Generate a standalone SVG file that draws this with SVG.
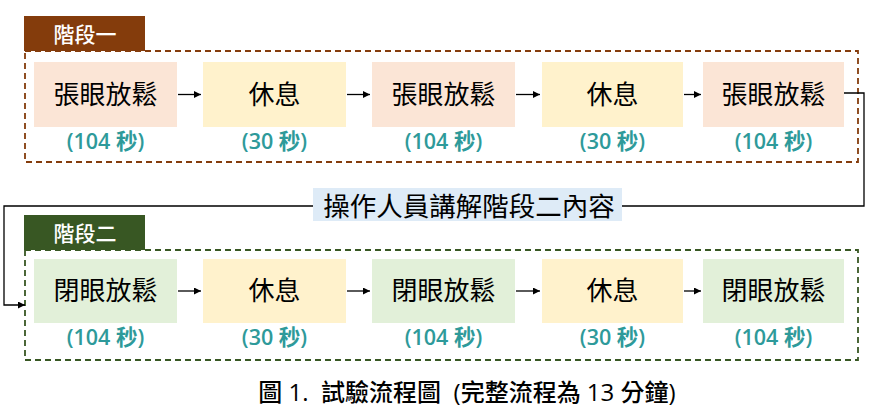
<svg xmlns="http://www.w3.org/2000/svg" width="875" height="415" viewBox="0 0 875 415">
<style>
.node text{font-family:"Noto Sans CJK TC","Noto Sans",sans-serif;font-size:26px;fill:#000;text-anchor:middle}
.dur{font-family:"Open Sans","Noto Sans CJK TC",sans-serif;font-size:21.5px;font-weight:600;fill:#2E9A9A;text-anchor:middle}
.hdr{font-family:"Noto Sans CJK TC",sans-serif;font-size:21px;font-weight:500;fill:#fff;text-anchor:middle}
.pink{fill:#FBE5D6}.yel{fill:#FFF2CC}.grn{fill:#E2F0D9}
.conn line,.conn path{stroke:#000;stroke-width:1.3;fill:none}
</style>
<defs>
<marker id="ah" viewBox="0 0 10 10" refX="10" refY="5" markerWidth="7" markerHeight="7" markerUnits="userSpaceOnUse" orient="auto">
<path d="M0,0 L10,5 L0,10 z" fill="#000"/>
</marker>
</defs>
<rect width="875" height="415" fill="#fff"/>

<g id="stage1">
<rect x="24" y="16" width="121" height="35" fill="#843C0C"/>
<text class="hdr" x="85" y="42">階段一</text>
<rect x="25" y="51" width="833" height="111" fill="none" stroke="#843C0C" stroke-width="1.8" stroke-dasharray="6,4"/>
</g>
<g id="stage2">
<rect x="24" y="215" width="121" height="35" fill="#385723"/>
<text class="hdr" x="85" y="241">階段二</text>
<rect x="25" y="250" width="833" height="110" fill="none" stroke="#385723" stroke-width="1.8" stroke-dasharray="6,4"/>
</g>

<g id="n1" class="node"><rect class="pink" x="34" y="62" width="143" height="65"/><text x="105.5" y="104">張眼放鬆</text></g>
<g id="n2" class="node"><rect class="yel" x="203" y="62" width="143" height="65"/><text x="274.5" y="104">休息</text></g>
<g id="n3" class="node"><rect class="pink" x="372" y="62" width="143" height="65"/><text x="443.5" y="104">張眼放鬆</text></g>
<g id="n4" class="node"><rect class="yel" x="542" y="62" width="141" height="65"/><text x="612.5" y="104">休息</text></g>
<g id="n5" class="node"><rect class="pink" x="703" y="62" width="141" height="65"/><text x="773.5" y="104">張眼放鬆</text></g>

<g id="d1">
<text class="dur" x="105.5" y="149">(104 秒)</text>
<text class="dur" x="274.5" y="149">(30 秒)</text>
<text class="dur" x="443.5" y="149">(104 秒)</text>
<text class="dur" x="612.5" y="149">(30 秒)</text>
<text class="dur" x="773.5" y="149">(104 秒)</text>
</g>

<g id="m1" class="node"><rect class="grn" x="34" y="259" width="143" height="64"/><text x="105.5" y="300">閉眼放鬆</text></g>
<g id="m2" class="node"><rect class="yel" x="203" y="259" width="143" height="64"/><text x="274.5" y="300">休息</text></g>
<g id="m3" class="node"><rect class="grn" x="372" y="259" width="143" height="64"/><text x="443.5" y="300">閉眼放鬆</text></g>
<g id="m4" class="node"><rect class="yel" x="542" y="259" width="141" height="64"/><text x="612.5" y="300">休息</text></g>
<g id="m5" class="node"><rect class="grn" x="703" y="259" width="141" height="64"/><text x="773.5" y="300">閉眼放鬆</text></g>

<g id="d2">
<text class="dur" x="105.5" y="345">(104 秒)</text>
<text class="dur" x="274.5" y="345">(30 秒)</text>
<text class="dur" x="443.5" y="345">(104 秒)</text>
<text class="dur" x="612.5" y="345">(30 秒)</text>
<text class="dur" x="773.5" y="345">(104 秒)</text>
</g>

<g id="connectors" class="conn">
<line x1="178" y1="94.5" x2="201" y2="94.5" marker-end="url(#ah)"/>
<line x1="347" y1="94.5" x2="370" y2="94.5" marker-end="url(#ah)"/>
<line x1="516" y1="94.5" x2="540" y2="94.5" marker-end="url(#ah)"/>
<line x1="684" y1="94.5" x2="701" y2="94.5" marker-end="url(#ah)"/>
<line x1="178" y1="291" x2="201" y2="291" marker-end="url(#ah)"/>
<line x1="347" y1="291" x2="370" y2="291" marker-end="url(#ah)"/>
<line x1="516" y1="291" x2="540" y2="291" marker-end="url(#ah)"/>
<line x1="684" y1="291" x2="701" y2="291" marker-end="url(#ah)"/>
<path d="M844,93 H864 V206 H4 V305 H25" marker-end="url(#ah)"/>
</g>

<g id="transition">
<rect x="313" y="188" width="309" height="33" fill="#DEEBF7"/>
<text x="469" y="215.5" font-family="Noto Sans CJK TC,sans-serif" font-size="26.5" text-anchor="middle" fill="#000">操作人員講解階段二內容</text>
</g>

<text x="467" y="401" font-family="Open Sans,Noto Sans CJK TC,sans-serif" font-size="24" font-weight="500" text-anchor="middle" fill="#000" xml:space="preserve">圖 1.  試驗流程圖  (完整流程為 13 分鐘)</text>
</svg>
